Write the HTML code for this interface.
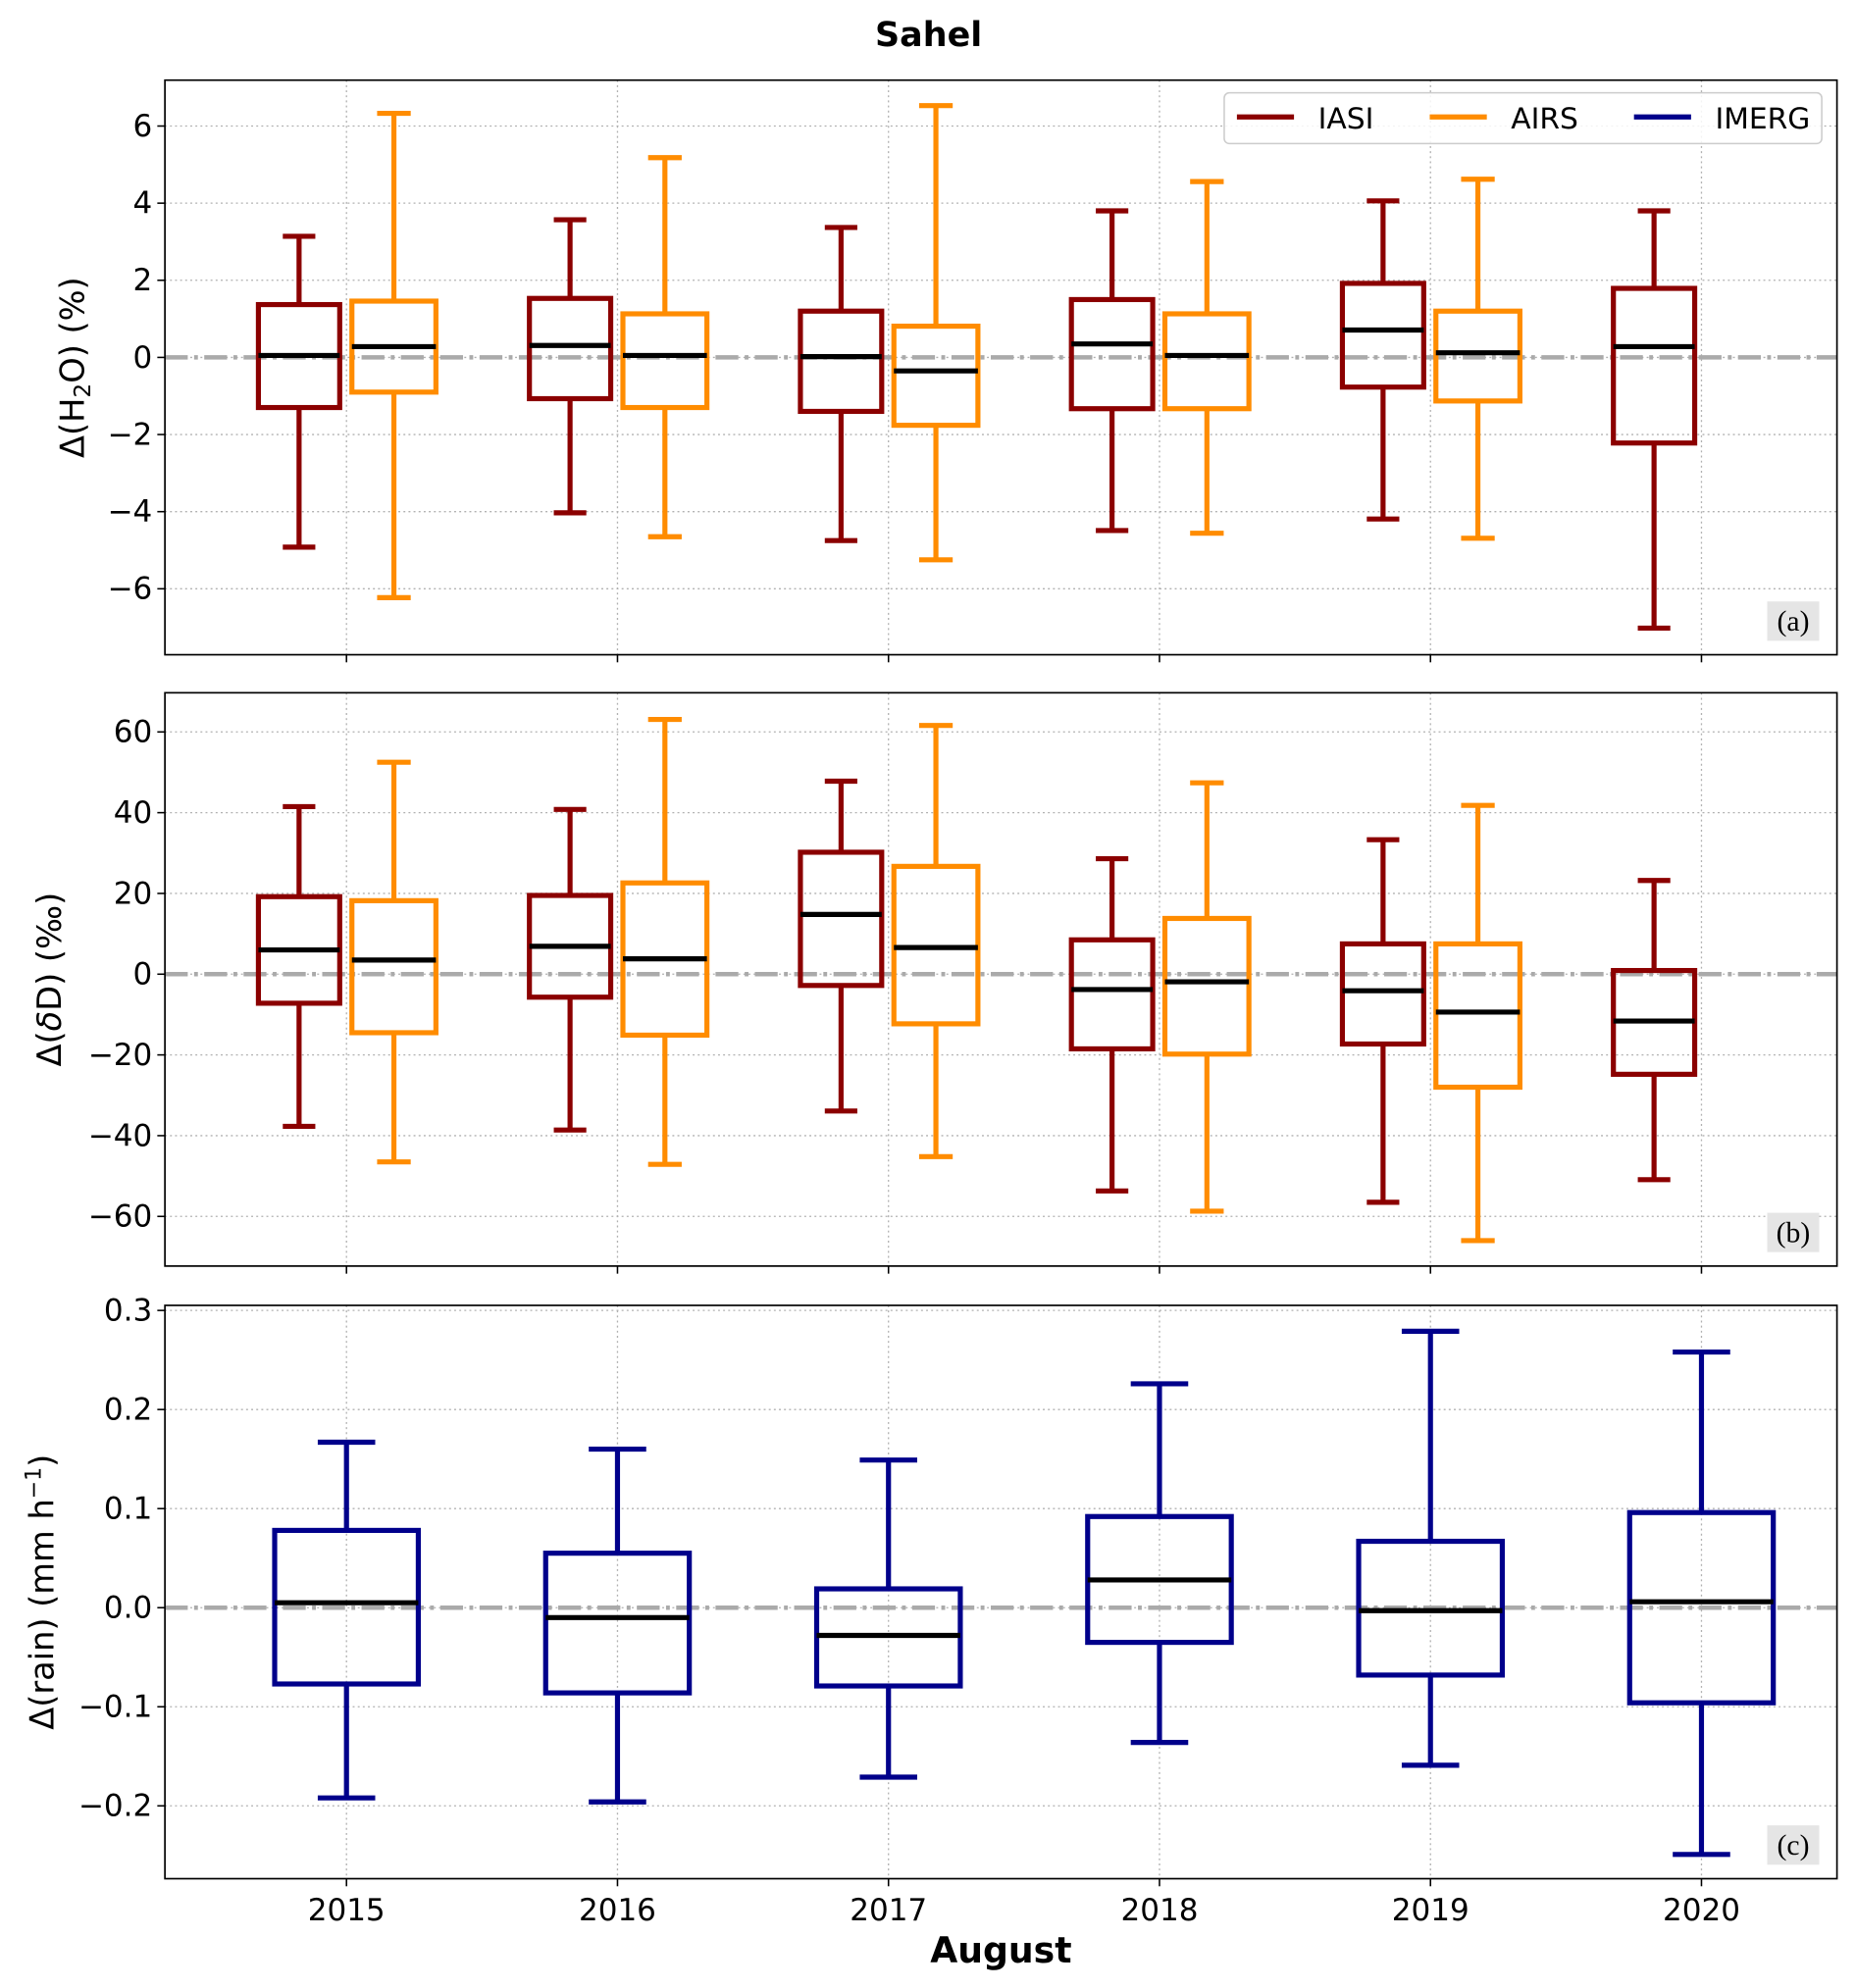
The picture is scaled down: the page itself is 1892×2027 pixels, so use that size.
<!DOCTYPE html>
<html><head><meta charset="utf-8"><style>
html,body{margin:0;padding:0;background:#fff}
svg{display:block}
text{font-family:"DejaVu Sans","Liberation Sans",sans-serif}
</style></head><body>
<svg id="chart" xmlns="http://www.w3.org/2000/svg" width="1892" height="2027" viewBox="0 0 1463 1567">
<text x="732" y="36" text-anchor="middle" font-size="27" font-weight="bold">Sahel</text>
<text x="789" y="1547" text-anchor="middle" font-size="28" font-weight="bold">August</text>
</svg>
<script>
const years = ["2015","2016","2017","2018","2019","2020"];
// [whisker-high, q3, median, q1, whisker-low]
const iasiH2O = [[3.14,1.37,0.05,-1.3,-4.92],[3.57,1.53,0.31,-1.07,-4.03],[3.37,1.2,0.02,-1.4,-4.75],[3.8,1.5,0.35,-1.33,-4.49],[4.06,1.92,0.71,-0.77,-4.19],[3.8,1.79,0.28,-2.22,-7.02]];
const airsH2O = [[6.33,1.46,0.28,-0.9,-6.23],[5.18,1.13,0.05,-1.3,-4.65],[6.53,0.81,-0.35,-1.76,-5.25],[4.56,1.13,0.05,-1.33,-4.56],[4.62,1.2,0.12,-1.13,-4.69]];
const iasiDD = [[41.5,19.2,6,-7.2,-37.7],[40.8,19.5,6.9,-5.7,-38.6],[47.8,30.2,14.8,-2.8,-33.9],[28.6,8.5,-3.8,-18.5,-53.7],[33.3,7.5,-4.1,-17.3,-56.5],[23.2,0.9,-11.6,-24.8,-50.9]];
const airsDD = [[52.5,18.2,3.5,-14.5,-46.5],[63.1,22.6,3.8,-15.1,-47.1],[61.6,26.7,6.6,-12.3,-45.2],[47.4,13.8,-1.9,-19.8,-58.7],[41.8,7.5,-9.4,-28,-66]];
const imergRain = [[0.167,0.078,0.005,-0.077,-0.192],[0.16,0.055,-0.01,-0.086,-0.196],[0.149,0.019,-0.028,-0.079,-0.171],[0.226,0.092,0.028,-0.035,-0.136],[0.279,0.067,-0.003,-0.068,-0.159],[0.258,0.096,0.006,-0.096,-0.249]];
const ticksA = [-6,-4,-2,0,2,4,6];
const ticksB = [-60,-40,-20,0,20,40,60];
const ticksC = [-0.2,-0.1,0.0,0.1,0.2,0.3];
const tickLabelsC = ["\u22120.2","\u22120.1","0.0","0.1","0.2","0.3"];

const NS="http://www.w3.org/2000/svg";
const svg=document.getElementById('chart');
const L=130,R=1448;
const xmin=-0.67,xmax=5.5;
const X=v=>L+(v-xmin)/(xmax-xmin)*(R-L);
const C={iasi:"#8b0000",airs:"#ff8c00",imerg:"#00008b"};
function el(tag,attrs,parent){const e=document.createElementNS(NS,tag);for(const k in attrs)e.setAttribute(k,attrs[k]);(parent||svg).appendChild(e);return e;}
function fmt(v){return v<0?"\u2212"+Math.abs(v):String(v);}

function panel(name,top,bot,ymin,ymax,ticks,tickLabels,ylabel,letter,series,showX){
  const g=el('g',{});
  
  
  const Y=v=>bot-(v-ymin)/(ymax-ymin)*(bot-top);
  ticks.forEach((t,i)=>{
    const gl=el('line',{x1:L,x2:R,y1:Y(t),y2:Y(t),stroke:"#b0b0b0","stroke-width":1,"stroke-dasharray":"1.5,2.5"},g);
    
    
    const tk=el('line',{x1:L-6,x2:L,y1:Y(t),y2:Y(t),stroke:"#000","stroke-width":1.2},g);
    
    
    const tl=el('text',{x:L-10,y:Y(t)+8,"text-anchor":"end","font-size":24},g);
    tl.textContent=tickLabels?tickLabels[i]:fmt(t);
    
    
  });
  years.forEach((yr,i)=>{
    const gx=el('line',{x1:X(i),x2:X(i),y1:top,y2:bot,stroke:"#b0b0b0","stroke-width":1,"stroke-dasharray":"1.5,2.5"},g);
    
    
    const tk=el('line',{x1:X(i),x2:X(i),y1:bot,y2:bot+6,stroke:"#000","stroke-width":1.2},g);
    
    
    if(showX){
      const tl=el('text',{x:X(i),y:bot+33,"text-anchor":"middle","font-size":24},g);
      tl.textContent=yr;
      
      
    }
  });
  const z=el('line',{x1:L,x2:R,y1:Y(0),y2:Y(0),stroke:"#aaaaaa","stroke-width":3.5,"stroke-dasharray":"18,5,3,5"},g);
  
  
  series.forEach(s=>{
    s.data.forEach((d,i)=>{
      const cx=X(i+s.off), hw=s.w/2*(R-L)/(xmax-xmin), cw=hw*0.8;
      const bg=el('g',{},g);
      
      
      const st={stroke:C[s.key],"stroke-width":4,fill:"none"};
      el('line',Object.assign({x1:cx,x2:cx,y1:Y(d[0]),y2:Y(d[1])},st),bg);
      el('line',Object.assign({x1:cx,x2:cx,y1:Y(d[3]),y2:Y(d[4])},st),bg);
      el('line',Object.assign({x1:cx-cw/2,x2:cx+cw/2,y1:Y(d[0]),y2:Y(d[0])},st),bg);
      el('line',Object.assign({x1:cx-cw/2,x2:cx+cw/2,y1:Y(d[4]),y2:Y(d[4])},st),bg);
      el('rect',Object.assign({x:cx-hw,y:Y(d[1]),width:2*hw,height:Y(d[3])-Y(d[1])},st),bg);
      el('line',{x1:cx-hw,x2:cx+hw,y1:Y(d[2]),y2:Y(d[2]),stroke:"#000","stroke-width":4},bg);
    });
  });
  const fr=el('rect',{x:L,y:top,width:R-L,height:bot-top,fill:"none",stroke:"#000","stroke-width":1.3},g);
  
  
  const lb=el('rect',{x:R-55,y:bot-42,width:41,height:31,fill:"#e5e5e5"},g);
  
  
  const lt=el('text',{x:R-34.5,y:bot-19,"text-anchor":"middle","font-size":23,style:'font-family:"Liberation Serif",serif'},g);
  lt.textContent=letter;
  
  
  const yl=el('text',{x:0,y:0,"text-anchor":"middle","font-size":26,transform:`translate(${ylabel.x},${(top+bot)/2}) rotate(-90)`},g);
  yl.innerHTML=ylabel.html;
  
  
  return g;
}

panel('panel-a-h2o',63,516,-7.71,7.19,ticksA,null,{x:66,html:'Δ(H<tspan font-size="18" dy="5">2</tspan><tspan dy="-5">O) (%)</tspan>'},'(a)',
  [{key:'iasi',data:iasiH2O,off:-0.175,w:0.3},{key:'airs',data:airsH2O,off:0.175,w:0.31}],false);
panel('panel-b-dd',546,998,-72.3,69.7,ticksB,null,{x:48,html:'Δ(<tspan font-style="italic">δ</tspan>D) (‰)'},'(b)',
  [{key:'iasi',data:iasiDD,off:-0.175,w:0.3},{key:'airs',data:airsDD,off:0.175,w:0.31}],false);
panel('panel-c-rain',1029,1481,-0.2735,0.3051,ticksC,tickLabelsC,{x:42,html:'Δ(rain) (mm h<tspan font-size="17" dy="-10">−1</tspan><tspan dy="10">)</tspan>'},'(c)',
  [{key:'imerg',data:imergRain,off:0,w:0.53}],true);

const lg=el('g',{});


el('rect',{x:965,y:73,width:471,height:40,rx:4,fill:"#fff","fill-opacity":0.85,stroke:"#ccc","stroke-width":1.2},lg);
[["iasi","IASI",975],["airs","AIRS",1127],["imerg","IMERG",1288]].forEach(e=>{
  const le=el('g',{},lg);
  
  
  el('line',{x1:e[2],x2:e[2]+45,y1:92,y2:92,stroke:C[e[0]],"stroke-width":4},le);
  const t=el('text',{x:e[2]+64,y:101,"font-size":23},le);
  t.textContent=e[1];
});
</script>
</body></html>
